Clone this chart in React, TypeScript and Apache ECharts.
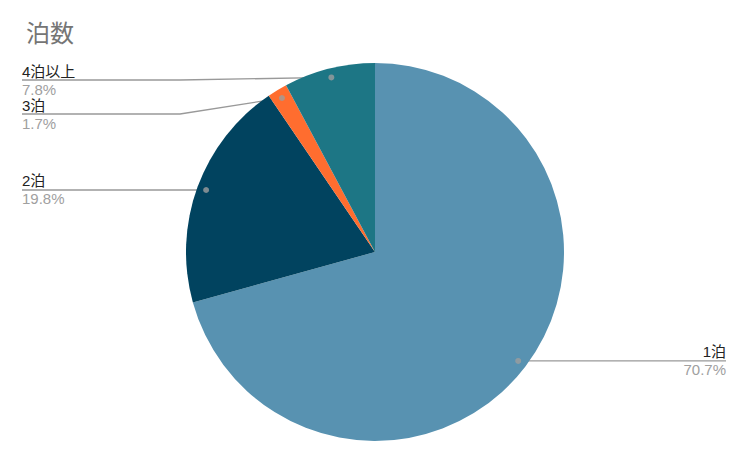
import React, { useEffect, useRef } from "react";
import * as echarts from "echarts";

const titleText = "泊数";
const names = ["1泊", "2泊", "3泊", "4泊以上"];
const values = [70.7, 19.8, 1.7, 7.8];
const colors = ["#5892b1", "#01435f", "#ff6d2f", "#1d7685"];

const CX = 375;
const CY = 252;
const R = 189;
const DOT_R = 0.952;

export default function App() {
  const ref = useRef<HTMLDivElement>(null);

  useEffect(() => {
    document.body.style.margin = "0";
    if (!ref.current) return;
    const chart = echarts.init(ref.current, null, { renderer: "svg" });

    const total = values.reduce((a, b) => a + b, 0);
    const mids: number[] = [];
    let cum = 0;
    values.forEach((v) => {
      mids.push(((cum + v / 2) / total) * 100);
      cum += v;
    });

    const dots = mids.map((m) => {
      const a = (m / 100) * Math.PI * 2;
      return [CX + R * DOT_R * Math.sin(a), CY - R * DOT_R * Math.cos(a)];
    });
    const lineY: number[] = dots.map((d) => d[1]);
    const left = dots.map((d, i) => i).filter((i) => dots[i][0] < CX).sort((a, b) => dots[a][1] - dots[b][1]);
    const right = dots.map((d, i) => i).filter((i) => dots[i][0] >= CX).sort((a, b) => dots[a][1] - dots[b][1]);
    const place = (arr: number[]) => {
      let prev = -Infinity;
      arr.forEach((i) => {
        const y = Math.max(dots[i][1], prev + 34, 80);
        lineY[i] = y;
        prev = y;
      });
    };
    place(left);
    place(right);

    const font = "'Liberation Sans', Arial, 'Noto Sans CJK JP', sans-serif";

    const option = {
      animation: false,
      backgroundColor: "#ffffff",
      title: {
        text: titleText,
        left: 21,
        top: 17,
        textStyle: {
          fontSize: 24,
          fontWeight: "normal",
          color: "#757575",
          fontFamily: "Roboto, 'Noto Sans CJK JP', sans-serif",
        },
      },
      polar: { center: [CX, CY], radius: R },
      angleAxis: {
        min: 0,
        max: 100,
        startAngle: 90,
        clockwise: true,
        show: false,
      },
      radiusAxis: { min: 0, max: 1, show: false },
      series: [
        {
          type: "pie",
          center: [CX, CY],
          radius: R,
          startAngle: 90,
          clockwise: true,
          avoidLabelOverlap: false,
          silent: true,
          data: names.map((n, i) => ({
            name: n,
            value: values[i],
            itemStyle: { color: colors[i] },
          })),
          label: {
            show: true,
            position: "outside",
            formatter: "{n|{b}}\n{p|{c}%}",
            fontFamily: font,
            rich: {
              n: { fontSize: 15, color: "#222222", lineHeight: 18, fontFamily: font },
              p: { fontSize: 15, color: "#a0a0a0", lineHeight: 18, fontFamily: font },
            },
          },
          labelLine: {
            show: true,
            lineStyle: { color: "#999999", width: 1.3 },
          },
          labelLayout: (params: any) => {
            const i = params.dataIndex;
            const d = dots[i];
            const y = lineY[i];
            const isLeft = d[0] < CX;
            if (isLeft) {
              return {
                x: 22,
                y,
                align: "left",
                verticalAlign: "middle",
                labelLinePoints: [
                  [d[0], d[1]],
                  [Math.min(180, d[0]), y],
                  [22, y],
                ],
              };
            }
            return {
              x: 726,
              y,
              align: "right",
              verticalAlign: "middle",
              labelLinePoints: [
                [d[0], d[1]],
                [Math.max(d[0], 540), y],
                [726, y],
              ],
            };
          },
        },
        {
          type: "scatter",
          coordinateSystem: "polar",
          symbol: "circle",
          symbolSize: 6,
          silent: true,
          z: 5,
          itemStyle: { color: "#9e9e9e" },
          data: mids.map((m) => [DOT_R, m]),
        },
      ],
    };
    chart.setOption(option as any);
    return () => chart.dispose();
  }, []);

  return <div ref={ref} style={{ width: 744, height: 462 }} />;
}
